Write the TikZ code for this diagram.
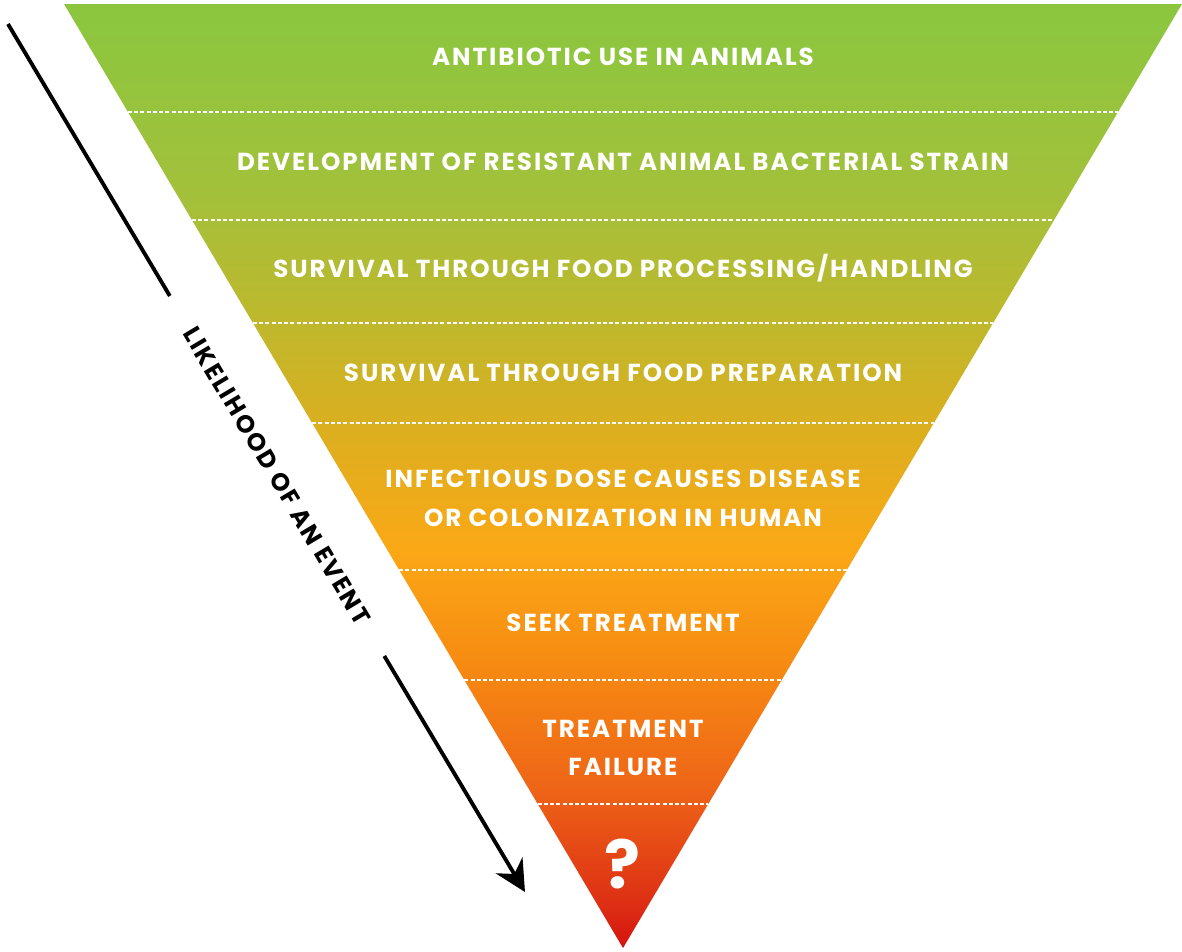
\documentclass[tikz,border=0pt]{standalone}
\usepackage{xcolor}
\usepackage{fontspec}
\usepackage{tikz}
\usetikzlibrary{
    arrows.meta,
    positioning,
    calc
}
\newfontfamily\pyrfont{Poppins}[LetterSpace=8]
\definecolor{pyrgreen}{HTML}{8CC63F}
\definecolor{pyrlime}{HTML}{A4C03A}
\definecolor{pyrolive}{HTML}{BCB92E}
\definecolor{pyrgold}{HTML}{D6B021}
\definecolor{pyramber}{HTML}{FBA816}
\definecolor{pyrorange}{HTML}{F78C12}
\definecolor{pyrflame}{HTML}{EE6417}
\definecolor{pyrred}{HTML}{DC2C14}
\definecolor{pyrdeep}{HTML}{D4120E}
% vertical colour run of the funnel (25bp = apex, 75bp = top edge)
\pgfdeclareverticalshading{pyrshade}{100bp}{
    color(0bp)=(pyrdeep);
    color(25bp)=(pyrdeep);
    color(27bp)=(pyrred);
    color(33.4bp)=(pyrflame);
    color(40.3bp)=(pyrorange);
    color(46.1bp)=(pyramber);
    color(53.5bp)=(pyrgold);
    color(58.8bp)=(pyrolive);
    color(64.6bp)=(pyrlime);
    color(74.2bp)=(pyrgreen);
    color(100bp)=(pyrgreen)
}
\tikzset{
    % Level text inside the funnel
    pyrlabel/.style={
        text=white,
        font=\pyrfont\bfseries\fontsize{14}{22}\selectfont,
        align=center,
        inner sep=2pt
    },
    % Dashed level separator
    pyrdivider/.style={
        draw=white,
        line width=0.85pt,
        dash pattern=on 0.08cm off 0.045cm
    },
    % Axis text along the arrow
    axislabel/.style={
        text=black,
        font=\pyrfont\bfseries\fontsize{14}{18}\selectfont,
        inner xsep=22pt,
        inner ysep=2pt
    },
    % Axis arrow
    axisline/.style={
        draw=black,
        line width=2.2pt
    }
}
\begin{document}
\begin{tikzpicture}[x=0.02cm, y=-0.02cm]
    \useasboundingbox (0,0) rectangle (1182,951);

    % funnel corners
    \coordinate (tl) at (64,4);
    \coordinate (tr) at (1182,4);
    \coordinate (apex) at (623,948);
    \shade[shading=pyrshade] (tl) -- (tr) -- (apex) -- cycle;

    % separators between levels
    \foreach \y [count=\i] in {112,220,323,423,570,680,804} {
        \pgfmathsetmacro{\f}{(\y-4)/944}
        \draw[pyrdivider] ($(tl)!\f!(apex)$) -- ($(tr)!\f!(apex)$);
    }

    % levels
    \node[pyrlabel] (lv1) at (623,57) {ANTIBIOTIC USE IN ANIMALS};
    \node[pyrlabel] (lv2) at (623,162) {DEVELOPMENT OF RESISTANT ANIMAL BACTERIAL STRAIN};
    \node[pyrlabel] (lv3) at (623,268) {SURVIVAL THROUGH FOOD PROCESSING/HANDLING};
    \node[pyrlabel] (lv4) at (623,373) {SURVIVAL THROUGH FOOD PREPARATION};
    \node[pyrlabel] (lv5) at (623,498) {INFECTIOUS DOSE CAUSES DISEASE\\OR COLONIZATION IN HUMAN};
    \node[pyrlabel] (lv6) at (623,623) {SEEK TREATMENT};
    \node[pyrlabel] (lv7) at (623,748) {TREATMENT\\FAILURE};
    \node[pyrlabel, font=\pyrfont\bfseries\fontsize{38}{40}\selectfont] (lv8) at (622,864) {?};

    % likelihood axis
    \coordinate (arrtop) at (8,24);
    \coordinate (arrtip) at (525,892);
    \node[axislabel, rotate=-59.2] (likely) at (277,476) {LIKELIHOOD OF AN EVENT};
    \draw[axisline] (arrtop) -- (likely);
    \draw[axisline, -{Stealth[length=0.62cm, width=0.62cm, inset=0.2cm]}] (likely) -- (arrtip);
\end{tikzpicture}
\end{document}
